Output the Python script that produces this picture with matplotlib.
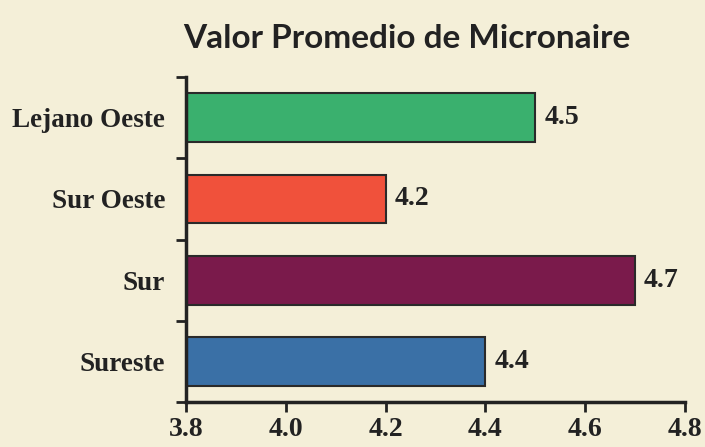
import matplotlib.pyplot as plt

# Datos
regiones = ['Lejano Oeste', 'Sur Oeste', 'Sur', 'Sureste']
valores = [4.5, 4.2, 4.7, 4.4]
colores = ['#3AB06E', '#F0513B', '#7A1A4B', '#3A70A6']
xticks = [3.8, 4.0, 4.2, 4.4, 4.6, 4.8]

fondo = '#F4EFD8'
serif = ['Liberation Serif', 'DejaVu Serif']

fig = plt.figure(figsize=(7.05, 4.47), dpi=100, facecolor=fondo)
ax = fig.add_axes([186 / 705, 45 / 447, 499 / 705, 325 / 447])
ax.set_facecolor(fondo)

pos = list(range(len(regiones)))[::-1]
base = xticks[0]
ax.barh(pos, [v - base for v in valores], left=base, height=0.6,
        color=colores, edgecolor='#2a2a2a', linewidth=1.5)

for p, v in zip(pos, valores):
    ax.text(v + 0.018, p, f'{v:.1f}', va='center', ha='left',
            fontsize=20, fontweight='bold', family=serif, color='#222222')

ax.set_xlim(3.8, 4.8)
ax.set_ylim(-0.5, 3.5)
ax.set_xticks(xticks)
ax.set_xticklabels([f'{t:.1f}' for t in xticks], fontsize=20,
                   fontweight='bold', family=serif, color='#222222')
ax.set_yticks([-0.5, 0.5, 1.5, 2.5, 3.5])
ax.set_yticklabels([])
ax.set_yticks(pos, minor=True)
ax.set_yticklabels(regiones, minor=True, fontsize=19.5, fontweight='bold',
                   family=serif, color='#222222')
ax.tick_params(axis='y', which='minor', length=0, pad=15)
ax.tick_params(axis='y', which='major', length=7, width=2, color='#222222')
ax.tick_params(axis='x', length=7, width=2, color='#222222', pad=4)

for s in ['top', 'right']:
    ax.spines[s].set_visible(False)
for s in ['left', 'bottom']:
    ax.spines[s].set_linewidth(2.5)
    ax.spines[s].set_color('#222222')

fig.text(407 / 705, 1 - 39 / 447, 'Valor Promedio de Micronaire', ha='center',
         va='center', fontsize=24, fontweight='bold',
         family=['Liberation Sans Narrow', 'Lato', 'DejaVu Sans'], color='#222222')

fig.savefig('out.png', dpi=100, facecolor=fondo)
